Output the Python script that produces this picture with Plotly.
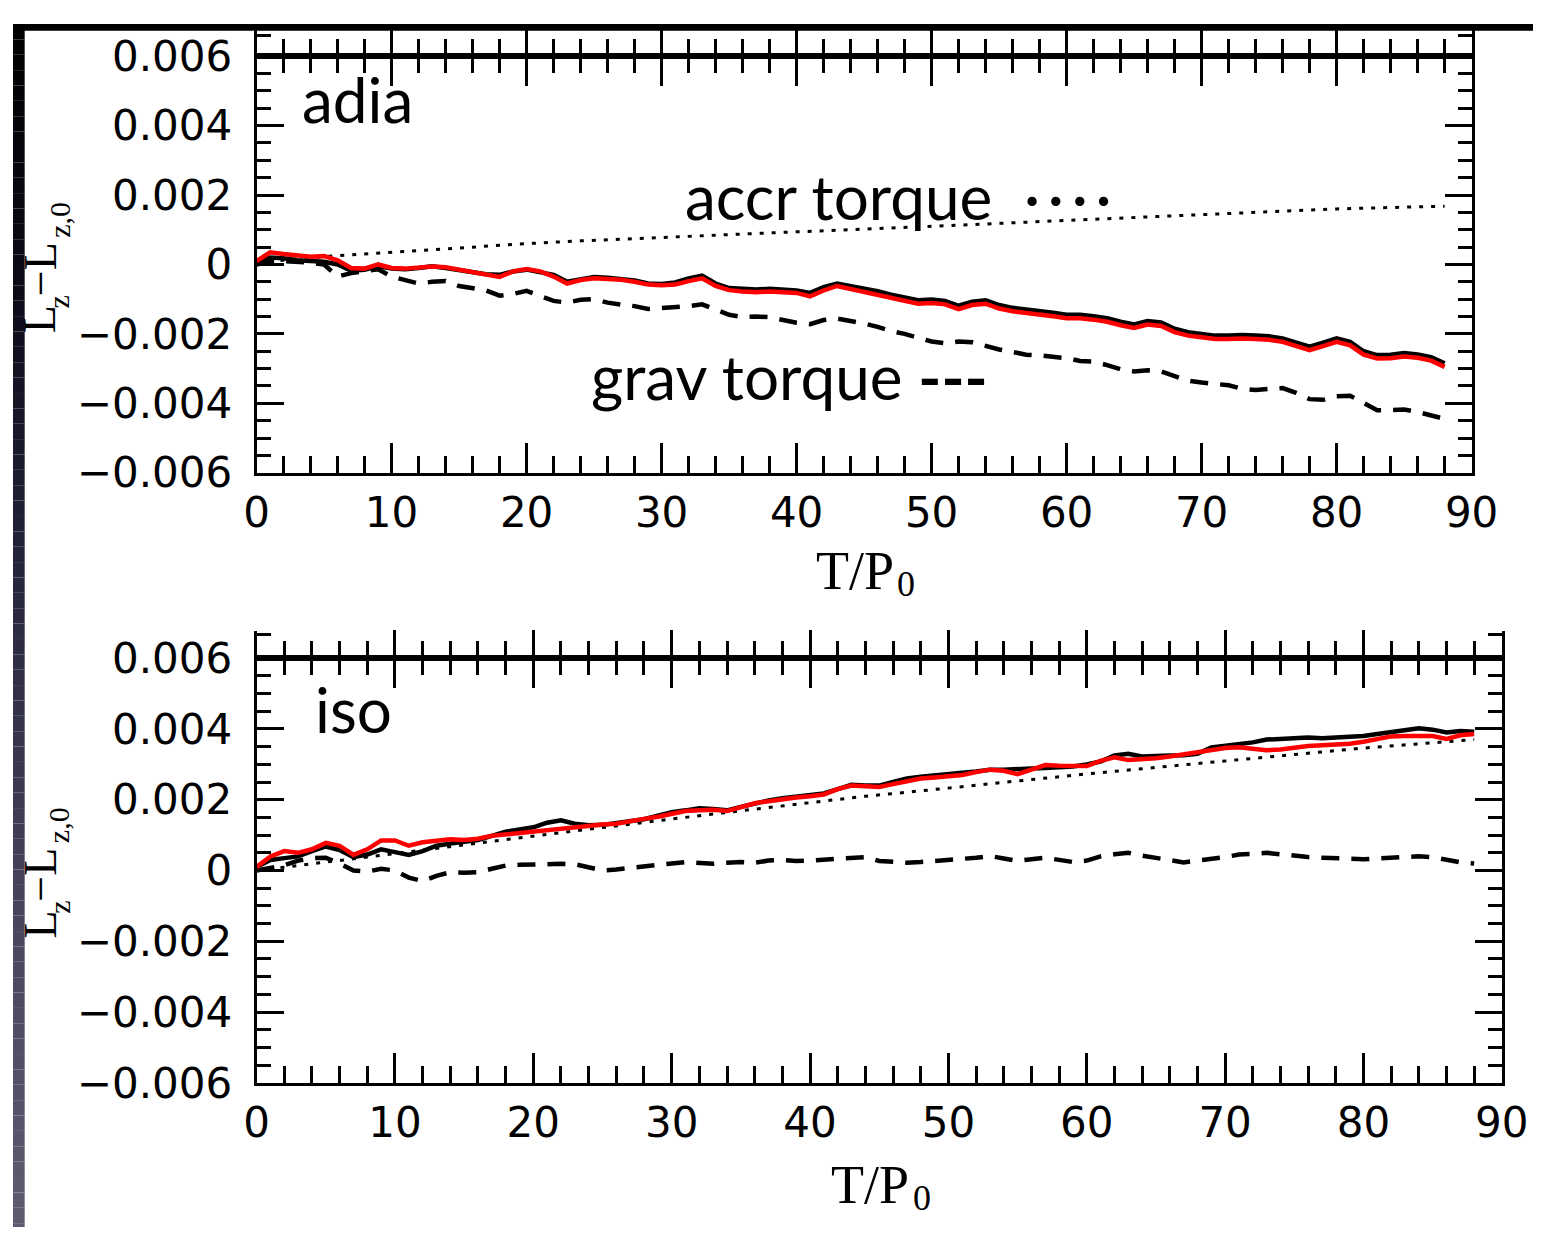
import plotly.graph_objects as go

# ---------------------------------------------------------------------------
# Data: change of angular momentum L_z - L_z,0 versus time T/P_0
# ---------------------------------------------------------------------------
t_steps = list(range(89))            # T/P0 = 0 .. 88, one orbit per sample
t_coarse = list(range(0, 89, 4))     # sampling of the smooth accretion-torque curves

# adiabatic run
adia_total = [
    0.00005, 0.0002, 0.00018, 0.00012, 0.0001, 0.00008, 0.0, -0.00018, -0.00015, -0.00005,
    -0.00012, -0.00014, -0.0001, -0.00005, -0.0001, -0.00016, -0.00022, -0.00028, -0.0003, -0.0002,
    -0.00015, -0.00022, -0.0003, -0.0005, -0.00042, -0.00036, -0.00038, -0.00042, -0.00046, -0.00055,
    -0.00056, -0.00052, -0.0004, -0.00032, -0.00055, -0.00068, -0.0007, -0.00072, -0.0007, -0.00072,
    -0.00075, -0.00082, -0.00065, -0.00055, -0.00062,
    -0.00071, -0.00077, -0.00087, -0.00095, -0.00103, -0.00101, -0.00105, -0.00119, -0.00107, -0.00103,
    -0.00117, -0.00125, -0.00129, -0.00135, -0.00139, -0.00145, -0.00145, -0.00149, -0.00155, -0.00165,
    -0.00173, -0.00163, -0.00167, -0.00185, -0.00195, -0.002, -0.00205, -0.00205, -0.00203, -0.00205,
    -0.00207, -0.00213, -0.00225, -0.00237, -0.00225, -0.00213, -0.00223, -0.0025, -0.00261, -0.0026,
    -0.00255, -0.00259, -0.00267, -0.00285,
]
adia_torque_sum = [
    0.0001, 0.00035, 0.0003, 0.00026, 0.00022, 0.00024, 0.00012, -0.0001, -0.00012, 0.0,
    -0.0001, -0.00012, -0.0001, -0.00006, -0.00008, -0.00015, -0.0002, -0.0003, -0.00036, -0.0002,
    -0.00013, -0.0002, -0.00035, -0.00055, -0.00045, -0.0004, -0.00042, -0.00044, -0.0005, -0.00058,
    -0.0006, -0.00058, -0.00048, -0.0004, -0.00062, -0.00074, -0.00078, -0.0008, -0.00078, -0.0008,
    -0.00082, -0.00092, -0.00075, -0.00062, -0.0007,
    -0.00081, -0.00087, -0.00097, -0.00105, -0.00113, -0.00111, -0.00115, -0.00129, -0.00117, -0.00113,
    -0.00127, -0.00135, -0.00139, -0.00145, -0.00149, -0.00155, -0.00155, -0.00159, -0.00165, -0.00175,
    -0.00183, -0.00173, -0.00177, -0.00195, -0.00205, -0.0021, -0.00215, -0.00215, -0.00213, -0.00215,
    -0.00217, -0.00223, -0.00235, -0.00247, -0.00235, -0.00223, -0.00233, -0.0026, -0.00271, -0.0027,
    -0.00265, -0.00269, -0.00277, -0.00295,
]
adia_grav = [
    0.0, 0.0001, 0.0001, 0.00008, 0.00005, 0.0, -0.00035, -0.00025, -0.00018, -0.00014,
    -0.00035, -0.00045, -0.00055, -0.0005, -0.00048, -0.00062, -0.0007, -0.00075, -0.0009, -0.00085,
    -0.00076, -0.0009, -0.00105, -0.0011, -0.00102, -0.001, -0.0011, -0.00116, -0.0012, -0.00128,
    -0.00126, -0.00122, -0.0012, -0.00115, -0.0013, -0.00145, -0.00152, -0.0015, -0.00152, -0.0016,
    -0.00168, -0.00172, -0.0016, -0.00156, -0.00162, -0.0017, -0.0018, -0.00192, -0.002, -0.0021,
    -0.00222, -0.00227, -0.00222, -0.00224, -0.00235, -0.00245, -0.00252, -0.0026, -0.00262, -0.00265,
    -0.0027, -0.00278, -0.0028, -0.0029, -0.00302, -0.00308, -0.00305, -0.00308, -0.0032, -0.00335,
    -0.0034, -0.00345, -0.00348, -0.00358, -0.00362, -0.00358, -0.00356, -0.0037, -0.00388, -0.0039,
    -0.0038, -0.00378, -0.004, -0.0042, -0.0042, -0.00418, -0.00425, -0.00435, -0.00445,
]
adia_accr = [
    0.00005, 0.0002, 0.0003, 0.0004, 0.00052, 0.0006, 0.00068, 0.00075, 0.00082, 0.00088,
    0.00094, 0.001, 0.00106, 0.00113, 0.0012, 0.00127, 0.00134, 0.00141, 0.00148, 0.00154,
    0.0016, 0.00164, 0.00168,
]

# isothermal run
iso_total = [
    0.0001, 0.0003, 0.00035, 0.0004, 0.00055, 0.00068, 0.00058, 0.00038, 0.00045, 0.0006,
    0.00052, 0.00044, 0.00055, 0.0007, 0.00076, 0.0008, 0.00086, 0.00098, 0.0011, 0.00116,
    0.00122, 0.00135, 0.00142, 0.00132, 0.00128, 0.00129, 0.00134, 0.00137, 0.00145, 0.00155,
    0.00165, 0.0017, 0.00176, 0.00174, 0.0017, 0.0018, 0.0019, 0.00198, 0.00204, 0.00208,
    0.00212, 0.00218, 0.0023, 0.00242, 0.0024, 0.0024, 0.0025, 0.0026, 0.00265, 0.00268,
    0.0027, 0.00276, 0.0028, 0.00285, 0.00285, 0.00285, 0.00288, 0.0029, 0.00292, 0.00294,
    0.003, 0.00308, 0.00325, 0.0033, 0.00322, 0.00322, 0.00325, 0.00326, 0.0033, 0.00348,
    0.00352, 0.00358, 0.00362, 0.0037, 0.00372, 0.00375, 0.00376, 0.00374, 0.00375, 0.00376,
    0.0038, 0.00386, 0.00392, 0.00396, 0.00402, 0.00398, 0.0039, 0.00394, 0.00392,
]
iso_torque_sum = [
    0.0001, 0.0004, 0.00055, 0.0005, 0.0006, 0.00078, 0.0007, 0.00044, 0.0006, 0.00085,
    0.00085, 0.0007, 0.0008, 0.00084, 0.00088, 0.00086, 0.0009, 0.00098, 0.00102, 0.00108,
    0.00112, 0.00116, 0.0012, 0.00124, 0.00128, 0.0013, 0.00132, 0.0014, 0.00146, 0.00152,
    0.0016, 0.00168, 0.0017, 0.00172, 0.00168, 0.0018, 0.0019, 0.00196, 0.00202, 0.00206,
    0.0021, 0.00215, 0.0023, 0.0024, 0.00238, 0.00236, 0.00244, 0.00252, 0.0026, 0.00263,
    0.00266, 0.0027, 0.00278, 0.00285, 0.00282, 0.00272, 0.00285, 0.00298, 0.00296, 0.00294,
    0.00295, 0.0031, 0.0032, 0.00312, 0.00314, 0.00317, 0.00322, 0.00328, 0.00332, 0.00338,
    0.00346, 0.00348, 0.00344, 0.0034, 0.00342, 0.00348, 0.00352, 0.00354, 0.00356, 0.00358,
    0.00364, 0.00372, 0.00379, 0.0038, 0.0038, 0.0038, 0.00372, 0.00382, 0.00386,
]
iso_grav = [
    0.0, 0.00008, 0.00015, 0.00028, 0.00035, 0.00036, 0.0002, 0.0, -0.00003, 0.00005,
    0.0, -0.0002, -0.0003, -0.00015, -0.00005, -0.00006, -0.00005, 0.00005, 0.00014, 0.00016,
    0.00018, 0.0002, 0.00019, 0.00018, 0.0001, 0.0, 0.00003, 0.00008, 0.0001, 0.00015,
    0.0002, 0.00024, 0.0002, 0.00019, 0.00022, 0.00024, 0.00022, 0.00028, 0.0003, 0.00027,
    0.00028, 0.0003, 0.00034, 0.00036, 0.00038, 0.00027, 0.00023, 0.00022, 0.00024, 0.00026,
    0.0003, 0.00033, 0.00036, 0.00041, 0.00034, 0.00027, 0.00032, 0.00036, 0.0003, 0.00024,
    0.00028, 0.0004, 0.00046, 0.0005, 0.00042, 0.00036, 0.00028, 0.00023, 0.00028, 0.00032,
    0.00038, 0.00045, 0.00048, 0.0005, 0.00046, 0.00041, 0.00038, 0.00036, 0.00034, 0.00032,
    0.00032, 0.00034, 0.00036, 0.00038, 0.0004, 0.00038, 0.0003, 0.00023, 0.0002,
]
iso_accr = [
    0.0, 0.00018, 0.00038, 0.00058, 0.00078, 0.00097, 0.00117, 0.00136, 0.00155, 0.00173,
    0.00192, 0.0021, 0.00225, 0.0024, 0.00257, 0.00273, 0.00288, 0.00302, 0.00317, 0.00332,
    0.00346, 0.00358, 0.0037,
]

for series in (adia_total, adia_torque_sum, adia_grav, iso_total, iso_torque_sum, iso_grav):
    assert len(series) == len(t_steps)
for series in (adia_accr, iso_accr):
    assert len(series) == len(t_coarse)

x_tick_vals = [0, 10, 20, 30, 40, 50, 60, 70, 80, 90]
x_tick_text = ["0", "10", "20", "30", "40", "50", "60", "70", "80", "90"]
y_tick_vals = [0.006, 0.004, 0.002, 0.0, -0.002, -0.004, -0.006]
y_tick_text = ["0.006", "0.004", "0.002", "0", "\u22120.002", "\u22120.004", "\u22120.006"]

# ---------------------------------------------------------------------------
# Page geometry (pixels) and helpers
# ---------------------------------------------------------------------------
W, H = 1560, 1252


def fx(px):
    return px / W


def fy(px):
    return 1 - px / H


TOP = dict(left=250, right=1497, top=33.5, bottom=467, stub_top=0, stub_tick=0.63,
           xtitle=(864, 569), ytitle=250)
BOT = dict(left=250, right=1528, top=660, bottom=1102, stub_top=632, stub_tick=0.89,
           xtitle=(880, 1208), ytitle=880)

tick_font = dict(family="DejaVu Sans", size=42, color="black")
serif = "Liberation Serif"
label_font = dict(family="Lato", size=62, color="black")

fig = go.Figure()


def add_panel(xa, ya, total, torque_sum, grav, accr):
    fig.add_trace(go.Scatter(x=t_coarse, y=accr, mode="lines", xaxis=xa, yaxis=ya,
                             line=dict(color="black", width=3, dash="4px,8px")))
    fig.add_trace(go.Scatter(x=t_steps, y=grav, mode="lines", xaxis=xa, yaxis=ya,
                             line=dict(color="black", width=4.5, dash="18px,12px")))
    fig.add_trace(go.Scatter(x=t_steps, y=total, mode="lines", xaxis=xa, yaxis=ya,
                             line=dict(color="black", width=4.5)))
    fig.add_trace(go.Scatter(x=t_steps, y=torque_sum, mode="lines", xaxis=xa, yaxis=ya,
                             line=dict(color="#ff0000", width=4.5)))


add_panel("x", "y", adia_total, adia_torque_sum, adia_grav, adia_accr)
add_panel("x3", "y3", iso_total, iso_torque_sum, iso_grav, iso_accr)
# empty traces so the strips above each frame get their own axes
fig.add_trace(go.Scatter(x=[], y=[], xaxis="x2", yaxis="y2"))
fig.add_trace(go.Scatter(x=[], y=[], xaxis="x4", yaxis="y4"))


def x_axis(p, anchor, main):
    ax = dict(domain=[fx(p["left"]), fx(p["right"])], anchor=anchor, range=[0, 90],
              showline=True, linecolor="black", linewidth=3, showgrid=False, zeroline=False,
              ticks="inside", tickcolor="black", tickwidth=3,
              tickmode="array", tickvals=x_tick_vals,
              minor=dict(ticks="inside", tickmode="linear", tick0=0, dtick=2,
                         ticklen=17, tickwidth=3, tickcolor="black", showgrid=False))
    if main:
        ax.update(ticklen=30, mirror="ticks", ticktext=x_tick_text, tickfont=tick_font,
                  ticklabelstandoff=1)
    else:
        ax.update(ticklen=28, showticklabels=False)
    return ax


def y_axis(p, anchor):
    return dict(domain=[fy(p["bottom"]), fy(p["top"])], anchor=anchor,
                range=[-0.006, 0.006], showline=True, linecolor="black", linewidth=3,
                mirror="ticks", showgrid=False, zeroline=False,
                ticks="inside", ticklen=27, tickwidth=3, tickcolor="black",
                tickmode="array", tickvals=y_tick_vals, ticktext=y_tick_text,
                tickfont=tick_font, ticklabelstandoff=13,
                minor=dict(ticks="inside", tickmode="linear", tick0=0, dtick=0.0005,
                           ticklen=14, tickwidth=3, tickcolor="black", showgrid=False))


def stub_axis(p, anchor):
    return dict(domain=[fy(p["top"]), fy(p["stub_top"])], anchor=anchor, range=[0, 1],
                showline=True, linecolor="black", linewidth=3, mirror="ticks",
                showgrid=False, zeroline=False, showticklabels=False,
                ticks="inside", ticklen=14, tickwidth=3, tickcolor="black",
                tickmode="array", tickvals=[p["stub_tick"]])


fig.update_layout(
    width=W, height=H, margin=dict(l=0, r=0, t=0, b=0),
    paper_bgcolor="white", plot_bgcolor="white", showlegend=False,
    xaxis=x_axis(TOP, "y", True), yaxis=y_axis(TOP, "x"),
    xaxis2=x_axis(TOP, "y2", False), yaxis2=stub_axis(TOP, "x2"),
    xaxis3=x_axis(BOT, "y3", True), yaxis3=y_axis(BOT, "x3"),
    xaxis4=x_axis(BOT, "y4", False), yaxis4=stub_axis(BOT, "x4"),
)


def text_at(text, px, py, size, angle=0, anchor="center"):
    return dict(text=text, xref="paper", yref="paper", x=fx(px), y=fy(py),
                xanchor=anchor, yanchor="middle", textangle=angle, showarrow=False,
                font=dict(family=serif, size=size, color="black"))


annotations = []
for p in (TOP, BOT):
    # x-axis title  T/P_0  (subscript set as its own smaller piece)
    tx, ty = p["xtitle"]
    annotations.append(text_at("T/P", tx, ty, 54))
    annotations.append(text_at("0", tx + 53, ty + 14, 36))
    # y-axis title  L_z - L_z,0  written bottom-to-top
    c = p["ytitle"]
    annotations.append(text_at("L", 28, c + 57, 46, angle=-90))
    annotations.append(text_at("z", 47, c + 39, 30, angle=-90))
    annotations.append(text_at("\u2212L", 28, c + 5, 46, angle=-90))
    annotations.append(text_at("z,0", 47, c - 46, 30, angle=-90))

for text, xr, yr, lx, ly in (
    ("adia", "x", "y", 3.2, 0.00478),
    ("accr torque  \u00b7\u2009\u00b7\u2009\u00b7\u2009\u00b7", "x", "y", 31.6, 0.00198),
    ("grav torque <b>---</b>", "x", "y", 24.6, -0.0032),
    ("iso", "x3", "y3", 4.1, 0.00455),
):
    annotations.append(dict(text=text, xref=xr, yref=yr, x=lx, y=ly, xanchor="left",
                            yanchor="middle", showarrow=False, font=label_font))

fig.update_layout(annotations=annotations)

# slide backdrop: dark band along the top and a shaded strip down the left edge
shapes = [dict(type="rect", xref="paper", yref="paper", x0=0, x1=1, y0=fy(7), y1=1,
               fillcolor="black", line=dict(width=0), layer="above")]
stops = [(0, (0, 0, 0)), (300, (12, 12, 28)), (600, (40, 40, 62)),
         (900, (70, 68, 90)), (1252, (95, 92, 112))]
band = 16
for y0 in range(0, H, band):
    mid = y0 + band / 2
    for (a, ca), (b, cb) in zip(stops[:-1], stops[1:]):
        if a <= mid <= b:
            f = (mid - a) / (b - a)
            col = tuple(round(ca[i] + f * (cb[i] - ca[i])) for i in range(3))
            break
    shapes.append(dict(type="rect", xref="paper", yref="paper", x0=0, x1=fx(12),
                       y0=fy(min(y0 + band, H)), y1=fy(y0),
                       fillcolor="rgb(%d,%d,%d)" % col, line=dict(width=0), layer="above"))
fig.update_layout(shapes=shapes)

fig.write_html("out.html")
